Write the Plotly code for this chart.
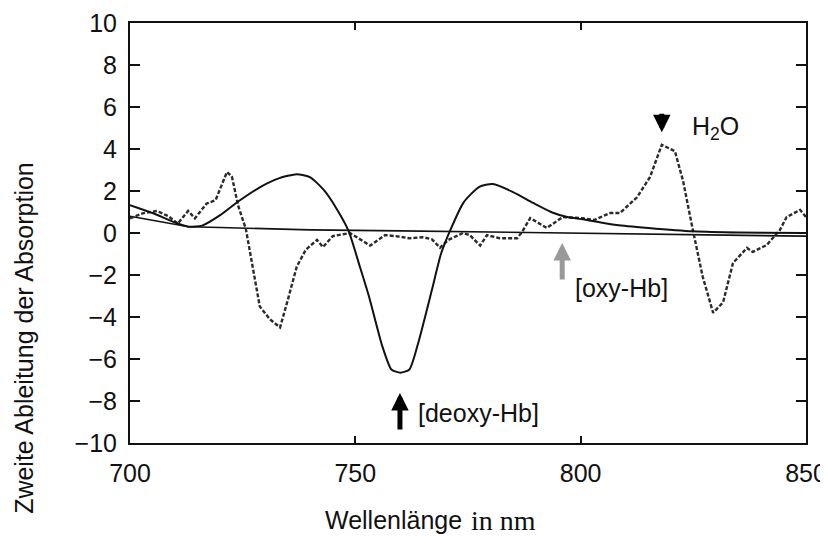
import plotly.graph_objects as go

# Solid curve (deoxy-Hb second derivative)
wl_solid = [700, 705, 710, 713, 716, 720, 724, 729, 733, 737, 740, 743, 746, 748.5,
            751, 753, 756, 758, 760, 762, 764, 767, 769, 771, 774, 777.5, 780.5, 785,
            789.5, 794, 797, 800.5, 804, 808, 815, 825, 835, 850]
val_solid = [1.33, 0.95, 0.5, 0.3, 0.35, 0.85, 1.5, 2.2, 2.6, 2.8, 2.65, 2.05, 1.1, 0.1,
             -1.6, -3.0, -5.4, -6.5, -6.65, -6.5, -5.2, -2.7, -1.0, 0.1, 1.45, 2.2, 2.33, 1.95,
             1.43, 0.95, 0.76, 0.65, 0.52, 0.38, 0.24, 0.08, 0.02, 0.0]

# Dashed curve (water)
wl_dash = [700, 703, 706, 708.5, 710.6, 712.9, 714.4, 717, 719, 721.5, 722.6, 724, 725.7,
           727.5, 728.8, 731, 733.3, 735, 737, 739, 741.5, 742.8, 745, 748.8, 751, 753.3,
           756.6, 759, 762, 765, 767, 768.8, 770.6, 773.9, 775.4, 777.7, 779.2, 782, 785.9,
           787, 788.8, 790.5, 792.5, 796, 800.5, 803, 806.5, 808.7, 812.5, 815.4, 818,
           820.9, 822.7, 824.9, 827.1, 829.4, 831.6, 833.8, 836.9, 838.2, 841.3, 844.2,
           845.7, 848.7, 850]
val_dash = [0.7, 0.95, 1.05, 0.8, 0.45, 1.05, 0.7, 1.4, 1.57, 2.9, 2.7, 1.3, 0.2,
            -2.0, -3.5, -4.1, -4.5, -3.2, -1.6, -0.8, -0.33, -0.67, -0.15, 0.0, -0.3, -0.6,
            -0.1, -0.15, -0.25, -0.2, -0.3, -0.7, -0.33, 0.0, -0.1, -0.6, -0.1, -0.25, -0.25,
            0.05, 0.71, 0.5, 0.24, 0.76, 0.7, 0.62, 0.95, 0.95, 1.7, 2.67, 4.2,
            3.9, 2.5, 0.14, -2.1, -3.8, -3.3, -1.43, -0.71, -0.9, -0.57, 0.14,
            0.76, 1.1, 0.76]

# Near-flat curve (oxy-Hb)
wl_flat = [700, 705, 710, 713, 720, 740, 760, 780, 800, 820, 850]
val_flat = [0.8, 0.6, 0.4, 0.3, 0.26, 0.15, 0.1, 0.05, 0.0, -0.06, -0.15]

x_ticks = [700, 750, 800, 850]
y_ticks = [-10, -8, -6, -4, -2, 0, 2, 4, 6, 8, 10]

fig = go.Figure()
fig.add_trace(go.Scatter(x=wl_flat, y=val_flat, mode="lines",
                         line=dict(color="#111", width=1.6)))
fig.add_trace(go.Scatter(x=wl_dash, y=val_dash, mode="lines",
                         line=dict(color="#2a2a2a", width=2.4, dash="4px,2px")))
fig.add_trace(go.Scatter(x=wl_solid, y=val_solid, mode="lines",
                         line=dict(color="#111", width=2, shape="spline", smoothing=0.6)))

font_sans = "Liberation Sans, Arial, sans-serif"
font_serif = "Liberation Serif, Times New Roman, serif"

fig.update_layout(
    template="none",
    width=820, height=529,
    margin=dict(l=122, r=22, t=15, b=94, pad=0),
    paper_bgcolor="white", plot_bgcolor="white",
    showlegend=False,
    font=dict(family=font_sans, size=25, color="#111"),
    xaxis=dict(range=[700, 850], tickvals=x_ticks, ticks="inside", ticklen=7,
               tickwidth=1.5, tickcolor="#111", showline=True, linecolor="#111",
               linewidth=2, mirror="allticks", showgrid=False, zeroline=False,
               ticklabelstandoff=7, automargin=False),
    yaxis=dict(range=[-10, 10], tickvals=y_ticks, ticks="inside", ticklen=10,
               tickwidth=1.5, tickcolor="#111", showline=True, linecolor="#111",
               linewidth=2, mirror="allticks", showgrid=False, zeroline=False,
               ticklabelstandoff=6, automargin=False),
)

arrows = [
    dict(x=818.0, y=4.8, ax=0, ay=-20, color="#000"),
    dict(x=795.9, y=-0.48, ax=0, ay=38, color="#999"),
    dict(x=759.9, y=-7.62, ax=0, ay=38, color="#000"),
]
for a in arrows:
    fig.add_annotation(x=a["x"], y=a["y"], xref="x", yref="y", ax=a["ax"], ay=a["ay"],
                       text="", showarrow=True, arrowhead=2, arrowsize=0.7,
                       arrowwidth=5, arrowcolor=a["color"])

labels = [
    dict(x=824.2, y=5.0, text="H<sub>2</sub>O"),
    dict(x=798.3, y=-2.62, text="[oxy-Hb]"),
    dict(x=763.5, y=-8.57, text="[deoxy-Hb]"),
]
for l in labels:
    fig.add_annotation(x=l["x"], y=l["y"], xref="x", yref="y", text=l["text"],
                       showarrow=False, xanchor="left", yanchor="middle",
                       font=dict(family=font_sans, size=25, color="#111"))

fig.add_annotation(x=-0.157, y=0.25, xref="paper", yref="paper",
                   text="Zweite Ableitung der Absorption", textangle=-90,
                   showarrow=False, xanchor="center", yanchor="middle",
                   font=dict(family=font_sans, size=25, color="#111"))
fig.add_annotation(x=0.2855, y=-0.183, xref="paper", yref="paper",
                   text="Wellenlänge", showarrow=False, xanchor="left", yanchor="middle",
                   font=dict(family=font_sans, size=25, color="#111"))
fig.add_annotation(x=0.5015, y=-0.184, xref="paper", yref="paper",
                   text="in nm", showarrow=False, xanchor="left", yanchor="middle",
                   font=dict(family=font_serif, size=28, color="#111"))

fig.write_html("out.html")
